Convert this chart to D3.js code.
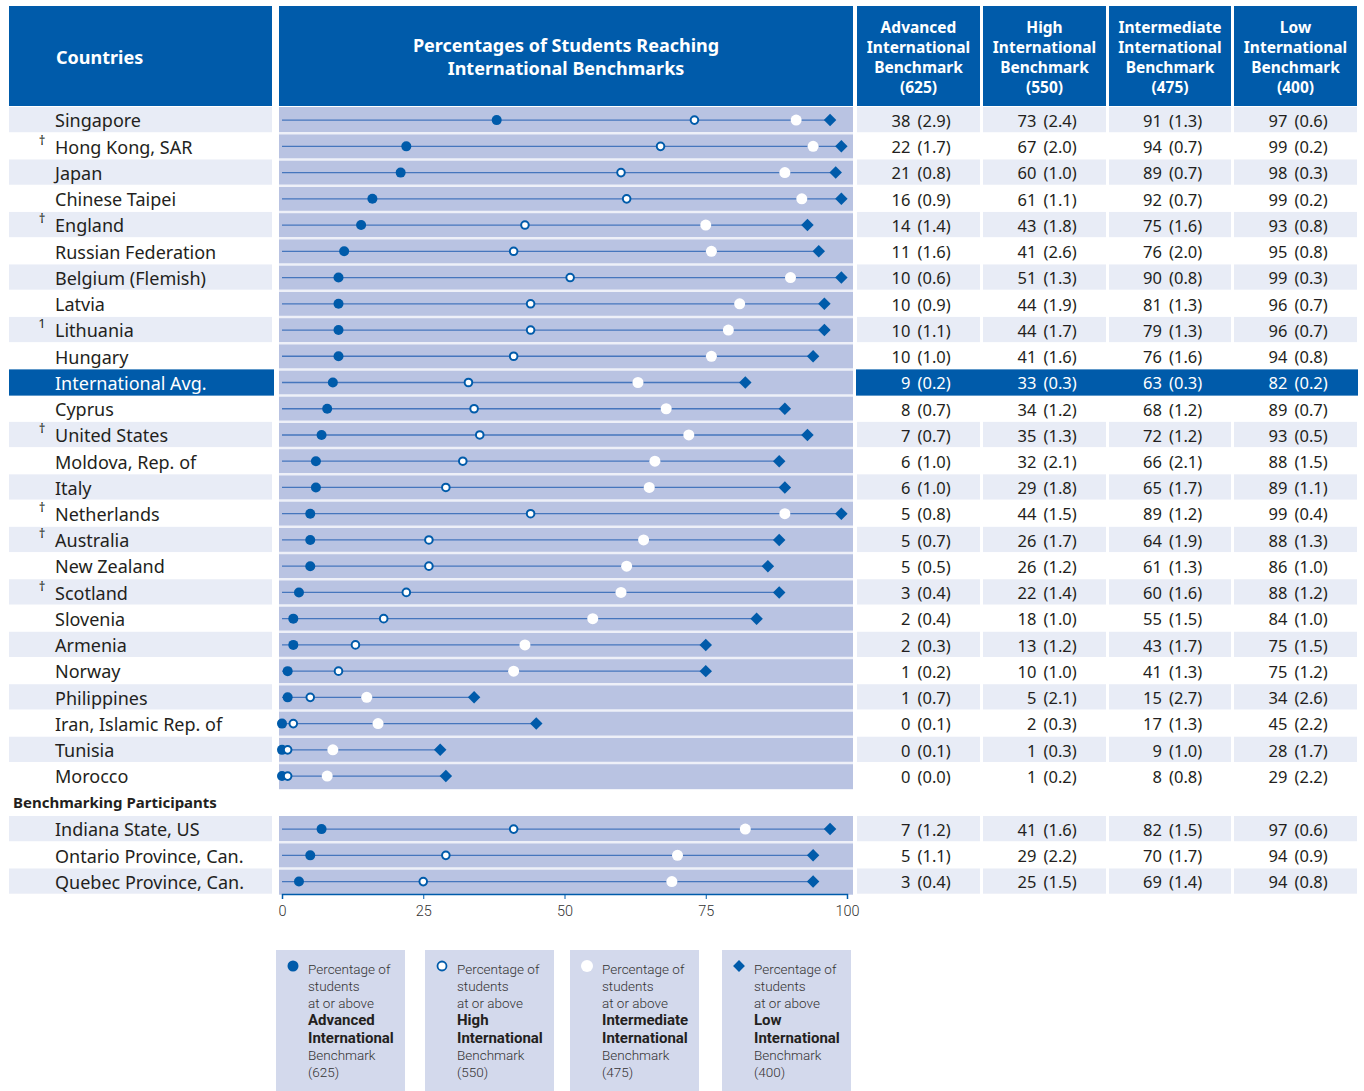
<!DOCTYPE html>
<html lang="en">
<head>
<meta charset="UTF-8">
<title>International Benchmarks</title>
<script src="https://cdnjs.cloudflare.com/ajax/libs/d3/7.8.5/d3.min.js"></script>
<style>
    body { margin: 0; background: #fff; }
    svg text { font-family: "Noto Sans", "Open Sans", sans-serif; fill: #231f20; }
</style>
</head>
<body>
<div id="chart"></div>
<script>
    // main countries
    var countries = ["Singapore", "Hong Kong, SAR", "Japan", "Chinese Taipei", "England",
        "Russian Federation", "Belgium (Flemish)", "Latvia", "Lithuania", "Hungary",
        "International Avg.", "Cyprus", "United States", "Moldova, Rep. of", "Italy",
        "Netherlands", "Australia", "New Zealand", "Scotland", "Slovenia", "Armenia",
        "Norway", "Philippines", "Iran, Islamic Rep. of", "Tunisia", "Morocco"];
    var notes = ["", "†", "", "", "†", "", "", "", "1", "", "", "", "†", "", "", "†", "†", "",
        "†", "", "", "", "", "", "", ""];
    var advanced   = [38, 22, 21, 16, 14, 11, 10, 10, 10, 10, 9, 8, 7, 6, 6, 5, 5, 5, 3, 2, 2, 1, 1, 0, 0, 0];
    var advancedSE = ["2.9","1.7","0.8","0.9","1.4","1.6","0.6","0.9","1.1","1.0","0.2","0.7","0.7","1.0","1.0","0.8","0.7","0.5","0.4","0.4","0.3","0.2","0.7","0.1","0.1","0.0"];
    var high       = [73, 67, 60, 61, 43, 41, 51, 44, 44, 41, 33, 34, 35, 32, 29, 44, 26, 26, 22, 18, 13, 10, 5, 2, 1, 1];
    var highSE     = ["2.4","2.0","1.0","1.1","1.8","2.6","1.3","1.9","1.7","1.6","0.3","1.2","1.3","2.1","1.8","1.5","1.7","1.2","1.4","1.0","1.2","1.0","2.1","0.3","0.3","0.2"];
    var inter      = [91, 94, 89, 92, 75, 76, 90, 81, 79, 76, 63, 68, 72, 66, 65, 89, 64, 61, 60, 55, 43, 41, 15, 17, 9, 8];
    var interSE    = ["1.3","0.7","0.7","0.7","1.6","2.0","0.8","1.3","1.3","1.6","0.3","1.2","1.2","2.1","1.7","1.2","1.9","1.3","1.6","1.5","1.7","1.3","2.7","1.3","1.0","0.8"];
    var low        = [97, 99, 98, 99, 93, 95, 99, 96, 96, 94, 82, 89, 93, 88, 89, 99, 88, 86, 88, 84, 75, 75, 34, 45, 28, 29];
    var lowSE      = ["0.6","0.2","0.3","0.2","0.8","0.8","0.3","0.7","0.7","0.8","0.2","0.7","0.5","1.5","1.1","0.4","1.3","1.0","1.2","1.0","1.5","1.2","2.6","2.2","1.7","2.2"];

    // benchmarking participants
    var participants = ["Indiana State, US", "Ontario Province, Can.", "Quebec Province, Can."];
    var pNotes = ["", "", ""];
    var pAdvanced   = [7, 5, 3];
    var pAdvancedSE = ["1.2", "1.1", "0.4"];
    var pHigh       = [41, 29, 25];
    var pHighSE     = ["1.6", "2.2", "1.5"];
    var pInter      = [82, 70, 69];
    var pInterSE    = ["1.5", "1.7", "1.4"];
    var pLow        = [97, 94, 94];
    var pLowSE      = ["0.6", "0.9", "0.8"];

    var colHeaders = [
        ["Advanced", "International", "Benchmark", "(625)"],
        ["High", "International", "Benchmark", "(550)"],
        ["Intermediate", "International", "Benchmark", "(475)"],
        ["Low", "International", "Benchmark", "(400)"]
    ];
    var titleLines = ["Percentages of Students Reaching", "International Benchmarks"];
    var axisTicks = [0, 25, 50, 75, 100];
    var legendLevels = ["Advanced", "High", "Intermediate", "Low"];
    var legendScores = ["(625)", "(550)", "(475)", "(400)"];

    var blue = "#005baa",
        plotBg = "#b9c3e2",
        shade = "#e8ecf6",
        lineBlue = "#4676bd";

    var width = 1364, height = 1091;

    var svg = d3.select("#chart").append("svg")
        .attr("width", width)
        .attr("height", height);

    var x = d3.scaleLinear().domain([0, 100]).range([282, 847]);

    var yMain = d3.scaleBand().domain(countries).range([107, 789.2]);
    var yPart = d3.scaleBand().domain(participants).range([816, 894.7]);

    var cols = [[857, 980], [983, 1106], [1109, 1231], [1234, 1357]];

    // multi-line text as one element
    function multiline(sel, lines, lh) {
        lines.forEach(function (t, j) {
            sel.append("tspan").attr("x", sel.attr("x")).attr("dy", j === 0 ? "0.35em" : lh).text(t);
        });
        return sel;
    }

    // header
    svg.append("rect").attr("x", 9).attr("y", 6).attr("width", 263).attr("height", 100).attr("fill", blue);
    svg.append("rect").attr("x", 279).attr("y", 6).attr("width", 574).attr("height", 100).attr("fill", blue);
    cols.forEach(function (c, i) {
        svg.append("rect").attr("x", c[0]).attr("y", 6).attr("width", c[1] - c[0]).attr("height", 100).attr("fill", blue);
        var t = svg.append("text")
            .attr("x", (c[0] + c[1]) / 2).attr("y", 28)
            .attr("text-anchor", "middle")
            .style("font-size", "15.5px").style("font-weight", "bold").style("fill", "#fff");
        multiline(t, colHeaders[i], 19.7);
    });
    svg.append("text").attr("x", 56).attr("y", 58).attr("dy", "0.35em")
        .style("font-size", "18px").style("font-weight", "bold").style("fill", "#fff")
        .text("Countries");
    var title = svg.append("text").attr("x", 566).attr("y", 46)
        .attr("text-anchor", "middle")
        .style("font-size", "18px").style("font-weight", "bold").style("fill", "#fff");
    multiline(title, titleLines, 23);

    function drawGroup(names, marks, adv, advSE, hi, hiSE, mid, midSE, lo, loSE, y) {
        var bw = y.bandwidth();
        var top = y.range()[0], bottom = y.range()[1];

        // plot background + separators
        svg.append("rect").attr("x", 279).attr("y", top).attr("width", 574).attr("height", bottom - top)
            .attr("fill", plotBg);
        svg.selectAll(null).data(names.slice(1)).enter().append("line")
            .attr("x1", 279).attr("x2", 853)
            .attr("y1", function (d) { return y(d); })
            .attr("y2", function (d) { return y(d); })
            .attr("stroke", "#eef0f8").attr("stroke-width", 2.5);

        names.forEach(function (name, i) {
            var yc = y(name) + bw / 2;
            var isAvg = name === "International Avg.";
            var fill = isAvg ? blue : (i % 2 === 0 ? shade : null);
            var txt = isAvg ? "#fff" : "#231f20";

            if (fill) {
                svg.append("rect").attr("x", 9).attr("y", y(name)).attr("width", isAvg ? 265 : 263)
                    .attr("height", bw - (isAvg ? 0 : 1)).attr("fill", fill);
                if (isAvg) {
                    svg.append("rect").attr("x", 856).attr("y", y(name)).attr("width", 502)
                        .attr("height", bw).attr("fill", fill);
                } else {
                    cols.forEach(function (c) {
                        svg.append("rect").attr("x", c[0]).attr("y", y(name)).attr("width", c[1] - c[0])
                            .attr("height", bw - 1).attr("fill", fill);
                    });
                }
            }

            svg.append("text").attr("x", 55).attr("y", yc + 1).attr("dy", "0.35em")
                .style("font-size", "18px").style("fill", txt).text(name);
            if (marks[i]) {
                svg.append("text").attr("x", 42).attr("y", yc - 3).attr("dy", "0.1em")
                    .attr("text-anchor", "middle")
                    .style("font-size", "13px").style("fill", txt).text(marks[i]);
            }

            // table values
            [[adv, advSE], [hi, hiSE], [mid, midSE], [lo, loSE]].forEach(function (p, k) {
                var cx = (cols[k][0] + cols[k][1]) / 2;
                svg.append("text").attr("x", cx - 8).attr("y", yc + 1).attr("dy", "0.35em")
                    .attr("text-anchor", "end")
                    .style("font-size", "16.5px").style("fill", txt).text(p[0][i]);
                svg.append("text").attr("x", cx - 1).attr("y", yc + 1).attr("dy", "0.35em")
                    .style("font-size", "16.5px").style("fill", txt).text("(" + p[1][i] + ")");
            });

            // chart marks
            svg.append("line")
                .attr("x1", x(0)).attr("x2", x(lo[i]))
                .attr("y1", yc).attr("y2", yc)
                .attr("stroke", lineBlue).attr("stroke-width", 1.3);
            svg.append("circle").attr("cx", x(adv[i])).attr("cy", yc).attr("r", 5).attr("fill", blue);
            svg.append("circle").attr("cx", x(hi[i])).attr("cy", yc).attr("r", 3.8)
                .attr("fill", "#fff").attr("stroke", blue).attr("stroke-width", 2);
            svg.append("circle").attr("cx", x(mid[i])).attr("cy", yc).attr("r", 5.5).attr("fill", "#fff");
            svg.append("path")
                .attr("d", d3.symbol().type(d3.symbolSquare).size(78)())
                .attr("transform", "translate(" + x(lo[i]) + "," + yc + ") rotate(45)")
                .attr("fill", blue);
        });
    }

    drawGroup(countries, notes, advanced, advancedSE, high, highSE, inter, interSE, low, lowSE, yMain);
    drawGroup(participants, pNotes, pAdvanced, pAdvancedSE, pHigh, pHighSE, pInter, pInterSE, pLow, pLowSE, yPart);

    svg.append("text").attr("x", 13).attr("y", 803).attr("dy", "0.35em")
        .style("font-size", "15px").style("font-weight", "bold")
        .text("Benchmarking Participants");

    // axis
    var xAxis = d3.axisBottom(x).tickValues(axisTicks).tickSize(5).tickPadding(7);
    var gx = svg.append("g")
        .attr("transform", "translate(0," + 894 + ")")
        .call(xAxis);
    gx.select(".domain").attr("stroke", blue).attr("stroke-width", 1.5);
    gx.selectAll(".tick line").attr("stroke", blue);
    gx.selectAll(".tick text").style("font-size", "14.5px").style("fill", "#333")
        .style("font-family", "Roboto, sans-serif").style("font-weight", 300);

    // legend
    var legendX = [276, 425, 570, 722];
    legendLevels.forEach(function (lvl, i) {
        var g = svg.append("g").attr("transform", "translate(" + legendX[i] + ",950)");
        g.append("rect").attr("width", 129).attr("height", 141).attr("fill", "#d3d9ec");
        var mx = 17, my = 16;
        if (i === 0) g.append("circle").attr("cx", mx).attr("cy", my).attr("r", 5.5).attr("fill", blue);
        if (i === 1) g.append("circle").attr("cx", mx).attr("cy", my).attr("r", 4.5).attr("fill", "#fff")
            .attr("stroke", blue).attr("stroke-width", 1.8);
        if (i === 2) g.append("circle").attr("cx", mx).attr("cy", my).attr("r", 6).attr("fill", "#fff");
        if (i === 3) g.append("path").attr("d", d3.symbol().type(d3.symbolSquare).size(70)())
            .attr("transform", "translate(" + mx + "," + my + ") rotate(45)").attr("fill", blue);

        var lines = [["Percentage of", 300], ["students", 300], ["at or above", 300],
            [lvl, 700], ["International", 700], ["Benchmark", 300], [legendScores[i], 300]];
        var t = g.append("text").attr("x", 32).attr("y", 19)
            .style("font-family", "Roboto, sans-serif")
            .style("font-size", "13.5px").style("fill", "#333");
        lines.forEach(function (l, j) {
            t.append("tspan").attr("x", 32).attr("dy", j === 0 ? "0.35em" : 17.2)
                .style("font-weight", l[1])
                .style("font-size", l[1] === 700 ? "15px" : "13.5px")
                .style("fill", l[1] === 700 ? "#231f20" : "#333")
                .text(l[0]);
        });
    });
</script>
</body>
</html>
